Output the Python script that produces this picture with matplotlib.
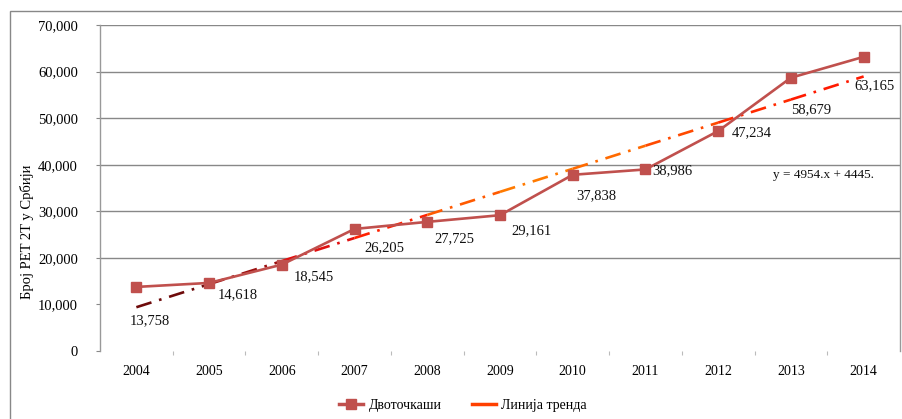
import numpy as np
import matplotlib
matplotlib.use("Agg")
import matplotlib.pyplot as plt
from matplotlib.lines import Line2D
from matplotlib.patches import Rectangle

plt.rcParams['font.family'] = ['Liberation Serif', 'DejaVu Serif']

years = ['2004', '2005', '2006', '2007', '2008', '2009', '2010', '2011', '2012', '2013', '2014']
counts = [13758, 14618, 18545, 26205, 27725, 29161, 37838, 38986, 47234, 58679, 63165]
series_name = 'Двоточкаши'
trend_name = 'Линија тренда'
y_title = 'Број PET 2T у Србији'
yticks = [0, 10000, 20000, 30000, 40000, 50000, 60000, 70000]

# label offsets in pixels (dx, dy downwards), as moved by hand in the original
lab_off = [(13, 34), (29, 12), (32, 12), (30, 19), (27, 17), (32, 15),
           (24, 21), (27, 1), (34, 2), (20, 32), (11, 29)]
# colours of the trend line pieces, dark red -> red -> orange -> red
trend_cols = ['#6e0a0a', '#9a0f0f', '#e01010', '#ff2000', '#ff5a00', '#ff7a00',
              '#ff6a00', '#ff4a00', '#ff2a00', '#ff1a00']

W, H = 902, 419
fig = plt.figure(figsize=(W / 100, H / 100), dpi=100)
ax = fig.add_axes([100 / W, (H - 351) / H, 800 / W, 326 / H])

x = np.arange(1, len(years) + 1)

# trend line (linear fit), drawn piecewise to get the colour gradient
k, b = np.polyfit(x, counts, 1)
for i in range(len(x) - 1):
    xs = np.array([x[i], x[i + 1]])
    ax.plot(xs, k * xs + b, color=trend_cols[i], lw=1.9,
            dashes=(6, 3, 1, 3), solid_capstyle='butt', zorder=3)

ax.plot(x, counts, color='#c0504d', lw=1.9, marker='s', markersize=6.8,
        markerfacecolor='#c0504d', markeredgecolor='#c0504d', zorder=4)

for xi, yi, (dx, dy) in zip(x, counts, lab_off):
    ax.annotate(f'{yi:,}', (xi, yi), xytext=(dx * 0.72, -dy * 0.72),
                textcoords='offset points', ha='center', va='center',
                fontsize=10.5, color='#111111', zorder=5)

ax.text(10.45, 37700, 'y = 4954.x + 4445.', fontsize=9.5, ha='center', va='center',
        color='#111111')

ax.set_xlim(0.5, len(years) + 0.5)
ax.set_ylim(0, 70000)
ax.set_yticks(yticks)
ax.set_yticklabels([f'{v:,}' for v in yticks], fontsize=10.5)
ax.set_xticks(x)
ax.set_xticklabels(years, fontsize=10)
ax.tick_params(axis='x', length=0, pad=10)
ax.tick_params(axis='y', length=3, color='#888888', pad=13)
ax.set_xticks(np.arange(1.5, len(years), 1), minor=True)
ax.tick_params(axis='x', which='minor', length=3, color='#bbbbbb', width=0.8)

for v in yticks[2:]:
    ax.axhline(v, color='#888888', lw=1.0, zorder=1)
for s in ['top', 'bottom']:
    ax.spines[s].set_visible(False)
for s in ['left', 'right']:
    ax.spines[s].set_color('#999999')
    ax.spines[s].set_linewidth(1.0)

fig.text(27 / W, 1 - 232 / H, y_title, rotation=90, ha='center', va='center',
         fontsize=10.5)

# outer chart frame
fig.patches.append(Rectangle((10 / W, -0.1), 1.2, 1 - 11 / H + 0.1,
                             transform=fig.transFigure, fill=False,
                             edgecolor='#888888', lw=1.0))

handles = [Line2D([], [], color='#c0504d', lw=2.5, marker='s', markersize=6.5),
           Line2D([], [], color='#ff4000', lw=2.5)]
fig.legend(handles, [series_name, trend_name], loc='center',
           bbox_to_anchor=(463 / W, 1 - 405 / H), ncol=2, frameon=False,
           fontsize=10, handlelength=1.7, handletextpad=0.4, columnspacing=2.2)

fig.savefig('out.png', dpi=100)
